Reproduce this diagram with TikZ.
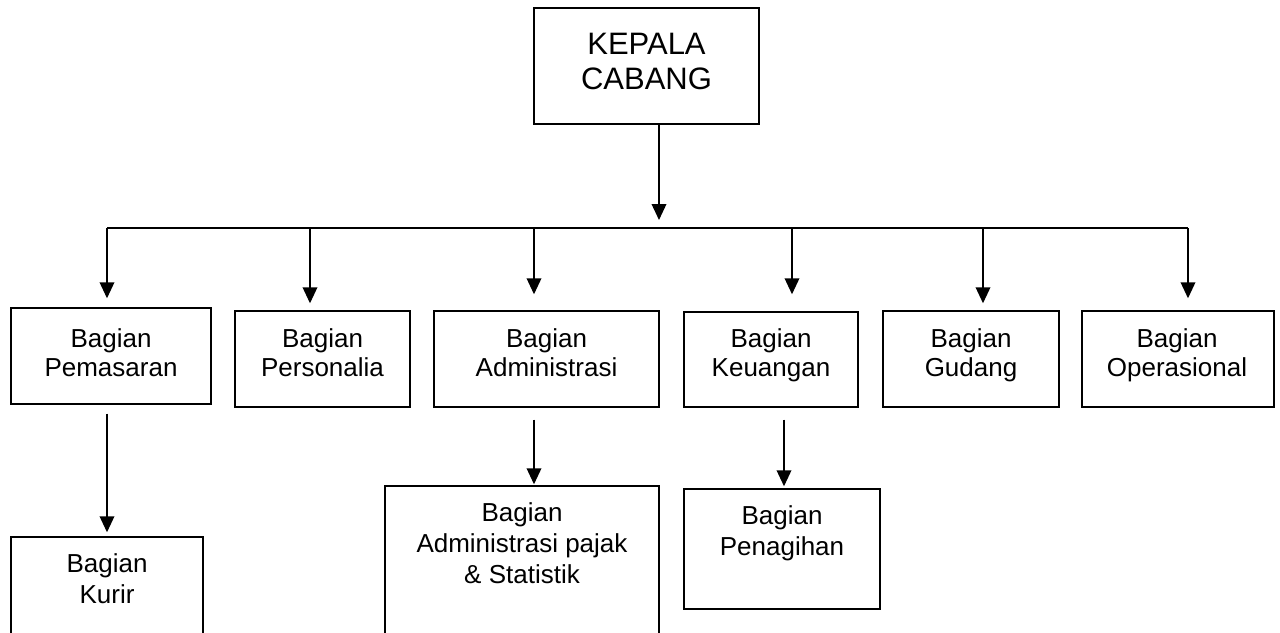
\documentclass[tikz,border=0pt]{standalone}
\usepackage{fontspec}
\setmainfont{Liberation Sans}
\usetikzlibrary{arrows.meta,fit}
\begin{document}
\begin{tikzpicture}[x=0.75pt,y=-0.75pt,
  box/.style={draw, line width=1.1pt, inner sep=0pt},
  txt/.style={align=center, inner sep=0pt, font=\fontsize{19.5}{21.75}\selectfont},
  txtb/.style={align=center, inner sep=0pt, font=\fontsize{19.5}{23.25}\selectfont},
  txtk/.style={align=center, inner sep=0pt, font=\fontsize{23.25}{26.25}\selectfont},
  conn/.style={line width=1.1pt},
  busthick/.style={line width=2.2pt},
  arr/.style={line width=1.1pt, -{Triangle[width=11pt,length=12pt]}}]
\clip (0,0) rectangle (1280,632);
% boxes
\node[box, fit={(534,8) (759,124)}] (kc) {};
\node[box, fit={(11,308) (211,404)}] (pem) {};
\node[box, fit={(235,311) (410,407)}] (pers) {};
\node[box, fit={(434,311) (659,407)}] (adm) {};
\node[box, fit={(684,312) (858,407)}] (keu) {};
\node[box, fit={(883,311) (1059,407)}] (gud) {};
\node[box, fit={(1082,311) (1274,407)}] (ops) {};
\node[box, fit={(11,537) (203,645)}] (kur) {};
\node[box, fit={(385,486) (659,645)}] (pjk) {};
\node[box, fit={(684,489) (880,609)}] (pen) {};
% texts
\node[txtk] (kct) at (646.5,64.5) {\strut KEPALA\\\strut CABANG};
\node[txt] (pemt) at (111,356) {\strut Bagian\\\strut Pemasaran};
\node[txt] (perst) at (322.5,356) {\strut Bagian\\\strut Personalia};
\node[txt] (admt) at (546.5,356) {\strut Bagian\\\strut Administrasi};
\node[txt] (keut) at (771,356) {\strut Bagian\\\strut Keuangan};
\node[txt] (gudt) at (971,356) {\strut Bagian\\\strut Gudang};
\node[txt] (opst) at (1177,356) {\strut Bagian\\\strut Operasional};
\node[txtb] (kurt) at (107,582) {\strut Bagian\\\strut Kurir};
\node[txtb] (pjkt) at (522,546.5) {\strut Bagian\\\strut Administrasi pajak\\\strut \& Statistik};
\node[txtb] (pent) at (782,534) {\strut Bagian\\\strut Penagihan};
% bus coordinates
\coordinate (b1) at (107,228);
\coordinate (b2) at (310,228);
\coordinate (b3) at (534,228);
\coordinate (bk) at (659,228);
\coordinate (b4) at (792,228);
\coordinate (b5) at (983,228);
\coordinate (b6) at (1188,228);
% bus
\draw[conn] (b1) -- (b2);
\draw[busthick] (b2) -- (b5);
\draw[conn] (b5) -- (b6);
% arrows
\draw[arr, shorten >=6pt] (kc.south -| bk) -- (bk);
\draw[arr, shorten >=6.75pt] (b1) -- (b1 |- pem.north);
\draw[arr, shorten >=5.25pt] (b2) -- (b2 |- pers.north);
\draw[arr, shorten >=12pt] (b3) -- (b3 |- adm.north);
\draw[arr, shorten >=12.75pt] (b4) -- (b4 |- keu.north);
\draw[arr, shorten >=5.25pt] (b5) -- (b5 |- gud.north);
\draw[arr, shorten >=9pt] (b6) -- (b6 |- ops.north);
\draw[arr, shorten <=6.75pt, shorten >=3pt] (b1 |- pem.south) -- (b1 |- kur.north);
\draw[arr, shorten <=9pt, shorten >=0.75pt] (b3 |- adm.south) -- (b3 |- pjk.north);
\coordinate (kp) at (784,228);
\draw[arr, shorten <=9pt, shorten >=1.5pt] (kp |- keu.south) -- (kp |- pen.north);
\end{tikzpicture}
\end{document}
